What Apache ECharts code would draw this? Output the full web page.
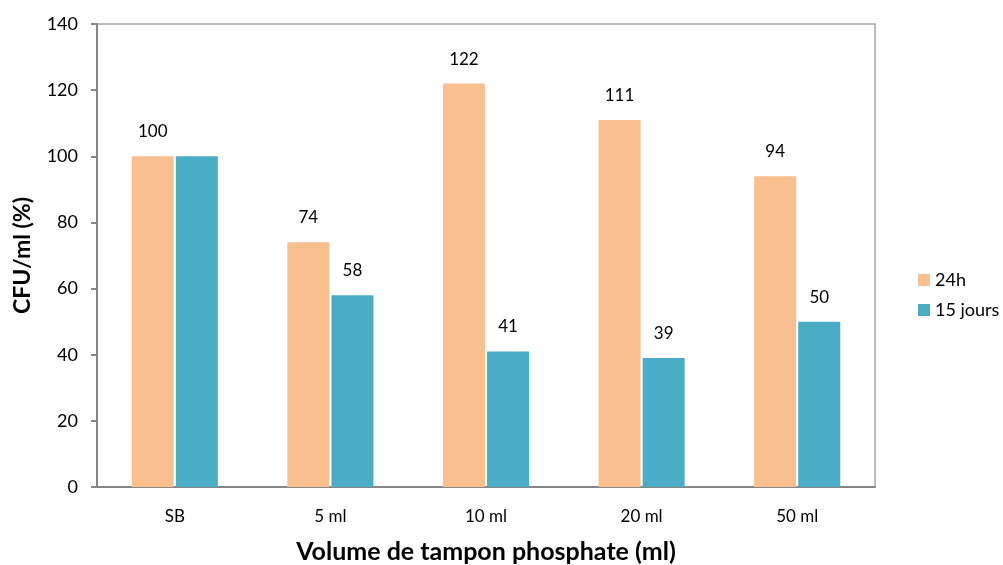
<!DOCTYPE html>
<html>
<head>
<meta charset="utf-8">
<script src="https://cdn.jsdelivr.net/npm/echarts@6/dist/echarts.min.js"></script>
<style>
  html, body { margin: 0; padding: 0; background: #fff; }
  #chart { width: 1003px; height: 565px; }
</style>
</head>
<body>
<div id="chart"></div>
<script>
// Categories and values
const categories = ['SB', '5 ml', '10 ml', '20 ml', '50 ml'];
const values24h = [100, 74, 122, 111, 94];
const values15j = [100, 58, 41, 39, 50];
// SB "15 jours" bar carries no value label
const labelled15j = [false, true, true, true, true];
const yTicks = [0, 20, 40, 60, 80, 100, 120, 140];

const FONT = 'Lato, "Open Sans", sans-serif';

const chart = echarts.init(document.getElementById('chart'), null, { renderer: 'canvas' });

const labelStyle = {
  show: true,
  position: 'top',
  distance: 16,
  color: '#000',
  fontFamily: FONT,
  fontSize: 17
};

chart.setOption({
  animation: false,
  backgroundColor: '#fff',
  grid: {
    left: 97, right: 128, top: 24, bottom: 78,
    show: true, borderColor: '#a6a6a6', borderWidth: 1.5,
    containLabel: false,
    outerBoundsMode: 'none'
  },
  legend: {
    orient: 'vertical',
    left: 913, top: 266,
    itemWidth: 12, itemHeight: 12, itemGap: 12,
    icon: 'rect',
    textStyle: { fontFamily: FONT, fontSize: 18, color: '#000' },
    data: ['24h', '15 jours']
  },
  xAxis: {
    type: 'category',
    data: categories,
    name: 'Volume de tampon phosphate (ml)',
    nameLocation: 'middle',
    nameGap: 52,
    nameTextStyle: { fontFamily: FONT, fontSize: 25, fontWeight: 'bold', color: '#000' },
    axisLine: { lineStyle: { color: '#868686', width: 2 } },
    axisTick: { show: false },
    axisLabel: { margin: 21, fontFamily: FONT, fontSize: 17, color: '#000' }
  },
  yAxis: {
    type: 'value',
    min: yTicks[0], max: yTicks[yTicks.length - 1], interval: 20,
    name: 'CFU/ml (%)',
    nameLocation: 'middle',
    nameGap: 63,
    nameRotate: 90,
    nameTextStyle: { fontFamily: FONT, fontSize: 23, fontWeight: 'bold', color: '#000' },
    axisLine: { show: true, lineStyle: { color: '#868686', width: 2 } },
    axisTick: { show: true, inside: false, length: 6, lineStyle: { color: '#868686', width: 2 } },
    axisLabel: { margin: 19, fontFamily: FONT, fontSize: 18, color: '#000' },
    splitLine: { show: false }
  },
  series: [
    {
      name: '24h',
      type: 'bar',
      data: values24h,
      barWidth: '27%',
      barGap: '5%',
      itemStyle: { color: '#F9BF8F' },
      label: labelStyle
    },
    {
      name: '15 jours',
      type: 'bar',
      data: values15j.map((v, i) => ({ value: v, label: { show: labelled15j[i] } })),
      barWidth: '27%',
      barGap: '5%',
      itemStyle: { color: '#4BACC6' },
      label: labelStyle
    }
  ]
});
</script>
</body>
</html>
